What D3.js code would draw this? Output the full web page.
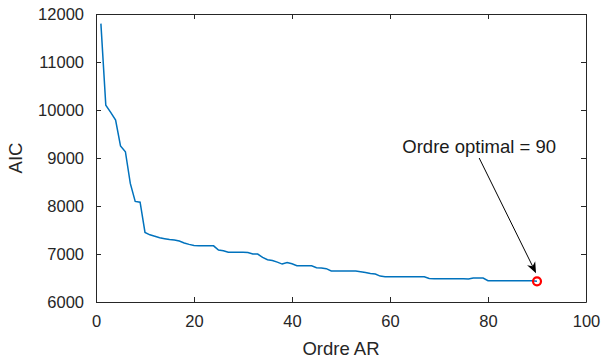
<!DOCTYPE html>
<html>
<head>
<meta charset="utf-8">
<script src="https://cdn.jsdelivr.net/npm/d3@7"></script>
<style>
  body { margin: 0; background: #fff; }
  svg { display: block; font-family: "Liberation Sans", Arial, Helvetica, sans-serif; }
  .axis path, .axis line { stroke: #262626; }
  .axis text { fill: #262626; font-size: 16.5px; }
</style>
</head>
<body>
<svg id="chart" width="603" height="362"></svg>
<script>
// AIC value for AR orders 1..90
const aic = [
  11800, 10100, 9950, 9790, 9250, 9130, 8470, 8095, 8080, 7450,
  7400, 7370, 7340, 7320, 7300, 7290, 7270, 7230, 7200, 7175,
  7173, 7173, 7172, 7170, 7083, 7069, 7035, 7035, 7034, 7034,
  7033, 7000, 6998, 6930, 6880, 6865, 6830, 6790, 6822, 6795,
  6757, 6757, 6756, 6756, 6715, 6707, 6695, 6648, 6646, 6646,
  6645, 6645, 6645, 6630, 6614, 6595, 6583, 6540, 6528, 6528,
  6528, 6527, 6527, 6527, 6526, 6526, 6526, 6490, 6486, 6486,
  6486, 6486, 6486, 6486, 6486, 6478, 6500, 6500, 6500, 6444,
  6444, 6444, 6444, 6444, 6444, 6443, 6443, 6443, 6443, 6430
]
const xTicks = [0, 20, 40, 60, 80, 100]
const yTicks = [6000, 7000, 8000, 9000, 10000, 11000, 12000]
const bestOrder = 90
const annotText = 'Ordre optimal = 90'
// arrow tail / head in data units
const arrowFrom = [78.2, 9000]
const arrowTo = [89.8, 6600]

const svg = d3.select('#chart')
const margin = { top: 14, right: 17, bottom: 60, left: 96 }
const W = 603 - margin.left - margin.right
const H = 362 - margin.top - margin.bottom

const data = aic.map((v, i) => ({ order: i + 1, aic: v }))

const x = d3.scaleLinear().domain([0, 100]).range([0, W])
const y = d3.scaleLinear().domain([6000, 12000]).range([H, 0])

const g = svg.append('g')
  .attr('transform', `translate(${margin.left},${margin.top})`)

//* * axes (MATLAB box, inward ticks)
g.append('g').attr('class', 'axis')
  .attr('transform', `translate(0,${H})`)
  .call(d3.axisBottom(x).tickValues(xTicks).tickFormat(d3.format('d')).tickSizeInner(-5).tickSizeOuter(0).tickPadding(13))
g.append('g').attr('class', 'axis')
  .call(d3.axisTop(x).tickValues(xTicks).tickSizeInner(-5).tickSizeOuter(0).tickFormat(''))
g.append('g').attr('class', 'axis')
  .call(d3.axisLeft(y).tickValues(yTicks).tickFormat(d3.format('d')).tickSizeInner(-5).tickSizeOuter(0).tickPadding(12))
g.append('g').attr('class', 'axis')
  .attr('transform', `translate(${W},0)`)
  .call(d3.axisRight(y).tickValues(yTicks).tickSizeInner(-5).tickSizeOuter(0).tickFormat(''))

g.selectAll('.axis text').attr('font-family', null)
g.selectAll('.axis .domain').attr('stroke-width', 1)

//* * labels
svg.append('text')
  .attr('x', margin.left + W / 2)
  .attr('y', 355)
  .attr('text-anchor', 'middle')
  .attr('fill', '#262626')
  .style('font-size', '18.5px')
  .text('Ordre AR')

svg.append('text')
  .attr('transform', `translate(22,${margin.top + H / 2}) rotate(-90)`)
  .attr('text-anchor', 'middle')
  .attr('fill', '#262626')
  .style('font-size', '18.5px')
  .text('AIC')

//* * line
const line = d3.line()
  .x((d) => x(d.order))
  .y((d) => y(d.aic))

g.append('path')
  .datum(data)
  .attr('fill', 'none')
  .attr('stroke', '#0072BD')
  .attr('stroke-width', 1.5)
  .attr('d', line)

//* * optimum marker
const best = data.find((d) => d.order === bestOrder)
g.append('circle')
  .attr('cx', x(best.order))
  .attr('cy', y(best.aic))
  .attr('r', 4)
  .attr('fill', 'none')
  .attr('stroke', '#ff0000')
  .attr('stroke-width', 2.2)

//* * annotation arrow
const x0 = x(arrowFrom[0]); const y0 = y(arrowFrom[1])
const x1 = x(arrowTo[0]); const y1 = y(arrowTo[1])
const ang = Math.atan2(y1 - y0, x1 - x0)
const hl = 11
const hw = 4.5
const bx = x1 - hl * Math.cos(ang)
const by = y1 - hl * Math.sin(ang)
const nx = -Math.sin(ang)
const ny = Math.cos(ang)
const notch = 0.3 * hl

g.append('line')
  .attr('x1', x0).attr('y1', y0)
  .attr('x2', x1 - (hl - notch) * Math.cos(ang)).attr('y2', y1 - (hl - notch) * Math.sin(ang))
  .attr('stroke', '#000')
  .attr('stroke-width', 1)

g.append('path')
  .attr('d', `M${x1},${y1}L${bx + hw * nx},${by + hw * ny}L${x1 - (hl - notch) * Math.cos(ang)},${y1 - (hl - notch) * Math.sin(ang)}L${bx - hw * nx},${by - hw * ny}Z`)
  .attr('fill', '#000')

g.append('text')
  .attr('x', x0)
  .attr('y', y0 - 5)
  .attr('text-anchor', 'middle')
  .attr('fill', '#1a1a1a')
  .style('font-size', '18.5px')
  .text(annotText)
</script>
</body>
</html>
